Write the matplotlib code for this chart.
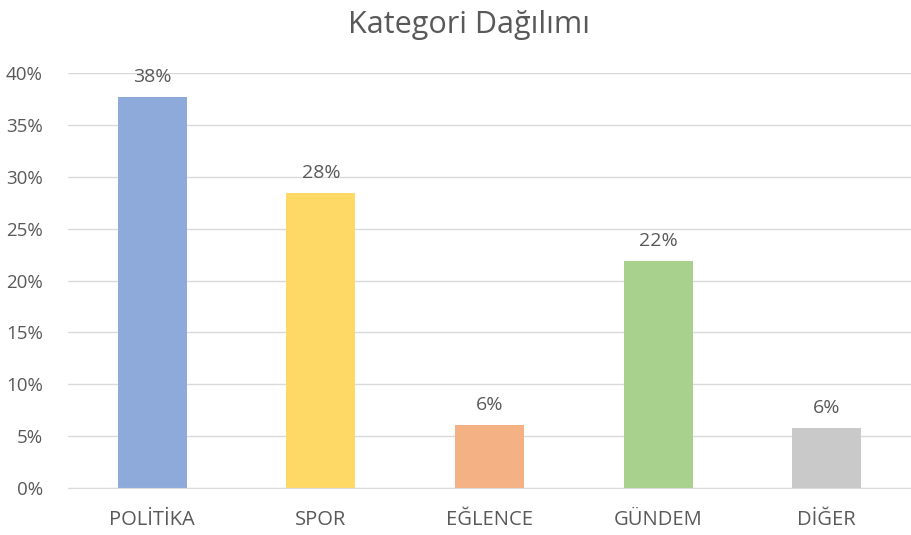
import matplotlib
matplotlib.use("Agg")
import matplotlib.pyplot as plt
from matplotlib.ticker import FuncFormatter

categories = ["POLİTİKA", "SPOR", "EĞLENCE", "GÜNDEM", "DİĞER"]
shares = [37.7, 28.4, 6.1, 21.9, 5.8]
labels = ["38%", "28%", "6%", "22%", "6%"]
colors = ["#8eaadb", "#ffd966", "#f4b183", "#a9d18e", "#c9c9c9"]
yticks = [0, 5, 10, 15, 20, 25, 30, 35, 40]

plt.rcParams["font.family"] = ["Open Sans", "DejaVu Sans"]
TEXT = "#595959"

fig = plt.figure(figsize=(9.11, 5.35), dpi=100)
ax = fig.add_axes([68 / 911, 47 / 535, 843 / 911, 415 / 535])

x = range(len(categories))
bars = ax.bar(x, shares, width=0.41, color=colors, zorder=2)
for b, lab in zip(bars, labels):
    ax.annotate(lab, xy=(b.get_x() + b.get_width() / 2, b.get_height()),
                xytext=(0, 8), textcoords="offset points",
                ha="center", va="bottom", fontsize=14, color=TEXT)

ax.set_xlim(-0.5, len(categories) - 0.5)
ax.set_ylim(0, 40)
ax.set_yticks(yticks)
ax.yaxis.set_major_formatter(FuncFormatter(lambda v, p: f"{v:.0f}%"))
ax.set_xticks(list(x))
ax.set_xticklabels(categories)
ax.grid(axis="y", color="#d9d9d9", lw=1, zorder=0)
for s in ("top", "right", "left"):
    ax.spines[s].set_visible(False)
ax.spines["bottom"].set_color("#d9d9d9")
ax.tick_params(axis="both", length=0, labelsize=13.5, labelcolor=TEXT)
ax.tick_params(axis="x", labelsize=14.5, pad=16)
ax.tick_params(axis="y", pad=18)

fig.text(0.515, 0.953, "Kategori Dağılımı", ha="center", va="center",
         fontsize=22, color=TEXT)

fig.savefig("out.png", dpi=100)
